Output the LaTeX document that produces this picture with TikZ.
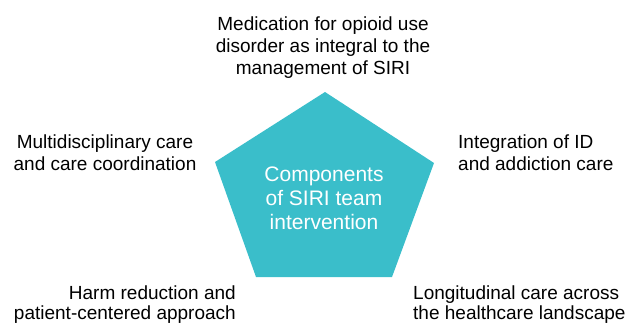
\documentclass[tikz,border=0pt]{standalone}
\usepackage{fontspec}
\setmainfont{Liberation Sans}
\definecolor{pentfill}{RGB}{58,190,202}
\begin{document}
\begin{tikzpicture}[x=1pt,y=1pt,
  lbl/.style={inner sep=0pt, font=\fontsize{19}{22}\selectfont, text=black},
  lblb/.style={inner sep=0pt, font=\fontsize{19}{20}\selectfont, text=black},
  ctr/.style={inner sep=0pt, font=\fontsize{21}{24}\selectfont, text=white, align=center}]
\useasboundingbox (0,0) rectangle (625,-324);
% pentagon
\coordinate (pt) at (325,-92);
\coordinate (pr) at (434,-163);
\coordinate (pbr) at (392,-277);
\coordinate (pbl) at (256,-277);
\coordinate (pl) at (215,-162);
\fill[pentfill] (pt) -- (pr) -- (pbr) -- (pbl) -- (pl) -- cycle;
\node[ctr] (core) at (324,-198) {Components\\of SIRI team\\intervention};
% labels
\node[lbl, align=center] (top) at (323,-47.5) {Medication for opioid use\\disorder as integral to the\\management of SIRI};
\node[lbl, align=center] (left) at (105,-153) {Multidisciplinary care\\and care coordination};
\node[lbl, align=left, anchor=west] (right) at (458,-153) {Integration of ID\\and addiction care};
\node[lblb, align=right, anchor=east] (bl) at (236,-305) {Harm reduction and\\patient-centered approach};
\node[lblb, align=left, anchor=west] (br) at (413,-305) {Longitudinal care across\\the healthcare landscape};
\end{tikzpicture}
\end{document}
